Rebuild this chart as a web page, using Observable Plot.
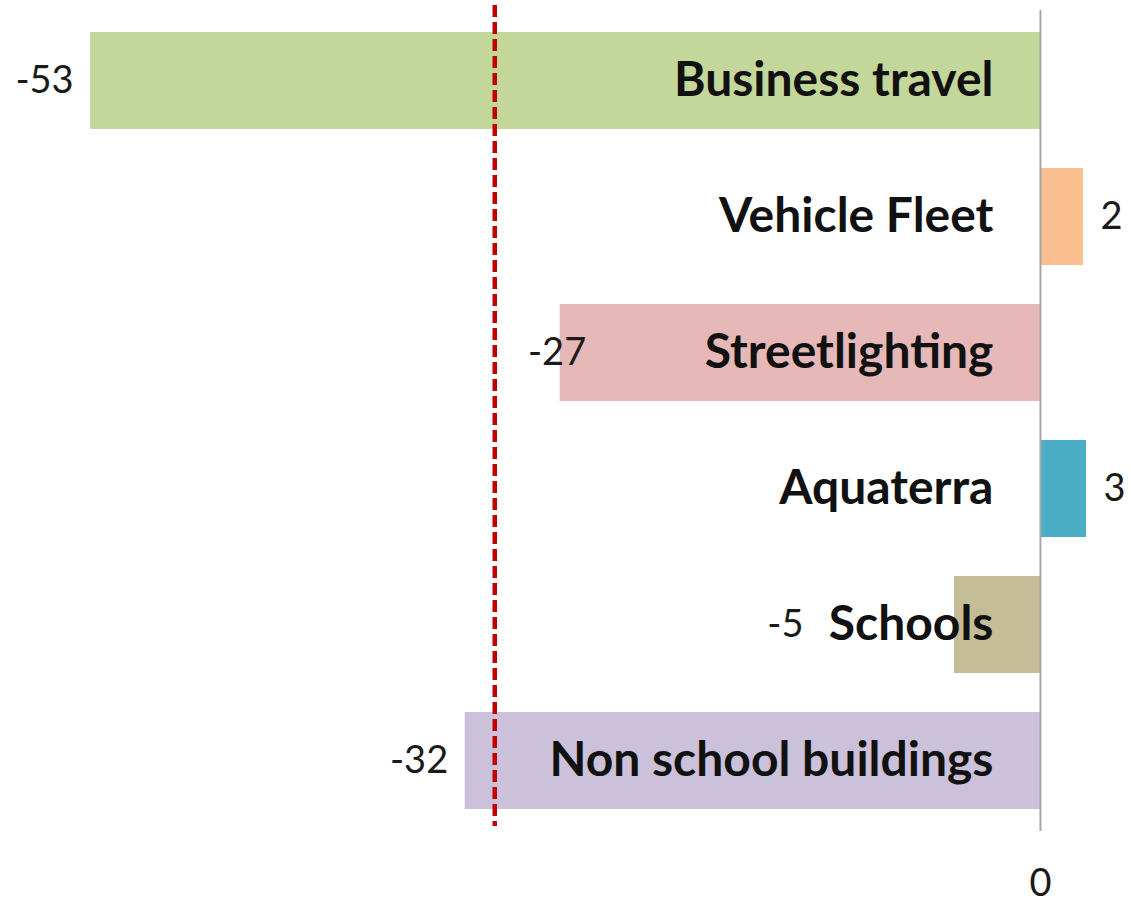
<!DOCTYPE html>
<html>
<head>
<meta charset="utf-8">
<script src="https://cdn.jsdelivr.net/npm/d3@7"></script>
<script src="https://cdn.jsdelivr.net/npm/@observablehq/plot@0.6"></script>
<style>
  html, body { margin: 0; padding: 0; background: #fff; }
  #chart svg { display: block; }
</style>
</head>
<body>
<div id="chart"></div>
<script>
// ---- data ----
const categories = ["Business travel", "Vehicle Fleet", "Streetlighting", "Aquaterra", "Schools", "Non school buildings"];
const values = [-53, 2.4, -26.8, 2.57, -4.8, -32.1];
const colors = ["#C4D79B", "#FAC090", "#E6B9B8", "#4BACC6", "#C4BD97", "#CCC1DA"];
const targetLine = [-30.45];
const xTicks = [0];

const data = categories.map((c, i) => ({category: c, value: values[i], color: colors[i]}));

// ---- layout ----
const W = 1131, H = 904;
const mL = 0, mR = 0, mT = 10, mB = 73;
const xDomain = [-58.03, 5.08];
const k = (W - mL - mR) / (xDomain[1] - xDomain[0]); // px per unit

// label nudges in pixels (manual placement as in the original)
const labelX = (d) => {
  if (d.category === "Streetlighting") return d.value + 26 / k;
  if (d.category === "Schools") return -237 / k;
  return d.value < 0 ? d.value - 17 / k : d.value + 17 / k;
};
const fmt = v => String(Math.round(v));

const chart = Plot.plot({
  width: W,
  height: H,
  marginLeft: mL,
  marginRight: mR,
  marginTop: mT,
  marginBottom: mB,
  style: {fontFamily: "Lato, sans-serif", background: "#fff"},
  x: {domain: xDomain, axis: null},
  y: {domain: categories, axis: null, paddingInner: 0.29, paddingOuter: 0.145},
  marks: [
    Plot.barX(data, {x1: 0, x2: "value", y: "category", fill: "color"}),
    Plot.ruleX(xTicks, {stroke: "#A6A6A6", strokeWidth: 2}),
    Plot.axisX(xTicks, {tickSize: 0, tickPadding: 38, fontSize: 38, fill: "#1a1a1a", tickFormat: fmt, label: null}),
    Plot.text(data, {
      x: 0, y: "category", text: "category", textAnchor: "end", dx: -47,
      fontSize: 48, fontWeight: "bold", fill: "#111"
    }),
    Plot.text(data.filter(d => d.value < 0), {
      x: labelX, y: "category", text: d => fmt(d.value), textAnchor: "end",
      fontSize: 38, fill: "#1a1a1a"
    }),
    Plot.text(data.filter(d => d.value >= 0), {
      x: labelX, y: "category", text: d => fmt(d.value), textAnchor: "start",
      fontSize: 38, fill: "#1a1a1a"
    }),
    Plot.ruleX(targetLine, {stroke: "#C00000", strokeWidth: 4.5, strokeDasharray: "12,5", insetTop: -5, insetBottom: 5})
  ]
});
document.getElementById("chart").appendChild(chart);
</script>
</body>
</html>
